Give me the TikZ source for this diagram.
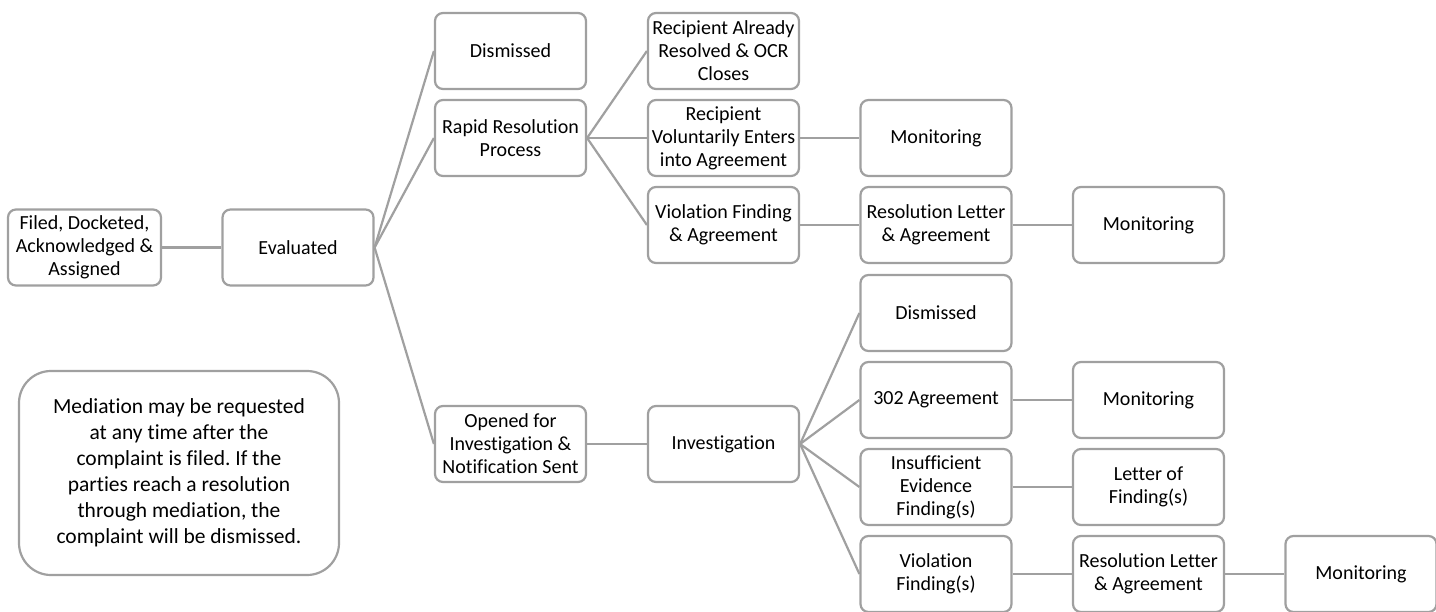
\documentclass[tikz,border=0pt]{standalone}
\usepackage{fontspec}
\setmainfont{Carlito}[Ligatures=NoCommon]
\definecolor{edge}{RGB}{160,160,160}
\frenchspacing
\begin{document}
\begin{tikzpicture}[x=1pt,y=-1pt,
  box/.style={draw=edge, line width=2.2pt, rounded corners=8pt, minimum width=151pt, minimum height=76pt, align=center, font=\fontsize{20}{23}\selectfont, inner sep=0pt, fill=white},
  note/.style={draw=edge, line width=2.2pt, rounded corners=32pt, minimum width=320pt, minimum height=204pt, align=center, font=\fontsize{21.5}{26}\selectfont, inner sep=0pt, fill=white},
  link/.style={draw=edge, line width=2.2pt}]
\clip (0,0) rectangle (1436,611);
\fill[white] (0,0) rectangle (1436,611);
% column 1-2
\node[box, minimum width=153pt] (filed) at (84.5,247.5) {Filed, Docketed,\\Acknowledged \&\\Assigned};
\node[box] (eval) at (298,247.5) {Evaluated};
% column 3
\node[box] (dis1) at (510.5,51) {Dismissed};
\node[box] (rapid) at (510.5,138) {Rapid Resolution\\Process};
\node[box] (open) at (510.5,444) {Opened for\\Investigation \&\\Notification Sent};
% column 4
\node[box] (already) at (723.5,51) {Recipient Already\\Resolved \& OCR\\Closes};
\node[box] (volun) at (723.5,138) {Recipient\\Voluntarily Enters\\into Agreement};
\node[box] (viofa) at (723.5,225) {Violation Finding\\\& Agreement};
\node[box] (invest) at (723.5,444) {Investigation};
% column 5
\node[box] (mon1) at (936,138) {Monitoring};
\node[box] (resl1) at (936,225) {Resolution Letter\\\& Agreement};
\node[box] (dis2) at (936,313) {Dismissed};
\node[box] (agr302) at (936,400) {302 Agreement};
\node[box] (insuf) at (936,487) {Insufficient\\Evidence\\Finding(s)};
\node[box] (viof) at (936,574) {Violation\\Finding(s)};
% column 6
\node[box] (mon2) at (1148.5,225) {Monitoring};
\node[box] (mon3) at (1148.5,400) {Monitoring};
\node[box] (letter) at (1148.5,487) {Letter of\\Finding(s)};
\node[box] (resl2) at (1148.5,574) {Resolution Letter\\\& Agreement};
% column 7
\node[box] (mon4) at (1361,574) {Monitoring};
% note
\node[note] (med) at (179,473) {Mediation may be requested\\at any time after the\\complaint is filed. If the\\parties reach a resolution\\through mediation, the\\complaint will be dismissed.};
% connectors
\draw[link] (filed.east) -- (eval.west);
\draw[link] (eval.east) -- (dis1.west);
\draw[link] (eval.east) -- (rapid.west);
\draw[link] (eval.east) -- (open.west);
\draw[link] (rapid.east) -- (already.west);
\draw[link] (rapid.east) -- (volun.west);
\draw[link] (rapid.east) -- (viofa.west);
\draw[link] (volun.east) -- (mon1.west);
\draw[link] (viofa.east) -- (resl1.west);
\draw[link] (resl1.east) -- (mon2.west);
\draw[link] (open.east) -- (invest.west);
\draw[link] (invest.east) -- (dis2.west);
\draw[link] (invest.east) -- (agr302.west);
\draw[link] (invest.east) -- (insuf.west);
\draw[link] (invest.east) -- (viof.west);
\draw[link] (agr302.east) -- (mon3.west);
\draw[link] (insuf.east) -- (letter.west);
\draw[link] (viof.east) -- (resl2.west);
\draw[link] (resl2.east) -- (mon4.west);
\end{tikzpicture}
\end{document}
